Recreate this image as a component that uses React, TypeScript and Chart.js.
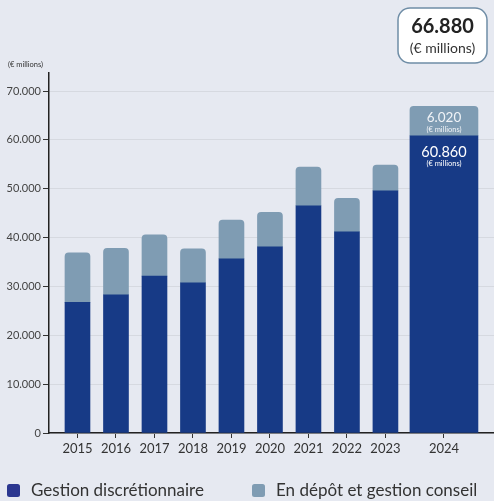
import React, { useEffect, useRef } from "react";
import { Chart, registerables } from "chart.js";

Chart.register(...registerables);

const years = ["2015", "2016", "2017", "2018", "2019", "2020", "2021", "2022", "2023", "2024"];
const discretionary = [26750, 28300, 32130, 30760, 35670, 38130, 46520, 41200, 49590, 60860];
const advisory = [10150, 9500, 8460, 6960, 7920, 7040, 7920, 6830, 5260, 6020];
const totalLabel = "66.880";
const unitLabel = "(€ millions)";
const seriesNames = ["Gestion discrétionnaire", "En dépôt et gestion conseil"];
const yTicks = [0, 10000, 20000, 30000, 40000, 50000, 60000, 70000];

const DARK = "#173a86";
const LIGHT = "#7f9cb3";
const LEGEND_DARK = "#2b3790";
const BG = "#e6e9f1";
const FONT = "Lato, 'Liberation Sans', sans-serif";

// x position of each category on the linear axis (last year sits in a wider slot)
const xPos = (i: number) => (i < years.length - 1 ? i : 9.52);
const fmt = (v: number) => v.toLocaleString("de-DE");

export default function App() {
  const ref = useRef<HTMLCanvasElement>(null);

  useEffect(() => {
    if (!ref.current) return;
    const n = years.length;
    const regular = years.slice(0, n - 1).map((_, i) => i);
    const last = n - 1;

    const overlay = {
      id: "overlay",
      afterDraw(chart: any) {
        const ctx = chart.ctx;
        ctx.save();
        // y-axis unit title
        ctx.fillStyle = "#333";
        ctx.font = `7.5px ${FONT}`;
        ctx.textAlign = "left";
        ctx.textBaseline = "middle";
        ctx.fillText(unitLabel, 8, 65);

        // total box
        const bx = 398, by = 8, bw = 89, bh = 55, r = 12;
        ctx.beginPath();
        ctx.roundRect(bx, by, bw, bh, r);
        ctx.fillStyle = "#ffffff";
        ctx.fill();
        ctx.lineWidth = 1.5;
        ctx.strokeStyle = "#6f8da6";
        ctx.stroke();
        ctx.fillStyle = "#222";
        ctx.textAlign = "center";
        ctx.font = `bold 20px ${FONT}`;
        ctx.fillText(totalLabel, bx + bw / 2, 27);
        ctx.font = `14px ${FONT}`;
        ctx.fillStyle = "#333";
        ctx.fillText(unitLabel, bx + bw / 2, 48);

        // labels inside last bar
        const darkBar = chart.getDatasetMeta(2).data[0];
        const lightBar = chart.getDatasetMeta(3).data[0];
        if (lightBar) {
          const cx = lightBar.x;
          const top = lightBar.y;
          ctx.fillStyle = "#f0f3f7";
          ctx.font = `13.5px ${FONT}`;
          ctx.fillText(fmt(advisory[last]), cx, top + 11);
          ctx.font = `7.5px ${FONT}`;
          ctx.fillText(unitLabel, cx, top + 23);
        }
        if (darkBar) {
          const cx = darkBar.x;
          const top = darkBar.y;
          ctx.fillStyle = "#ffffff";
          ctx.font = `14.5px ${FONT}`;
          ctx.fillText(fmt(discretionary[last]), cx, top + 17);
          ctx.font = `7.5px ${FONT}`;
          ctx.fillText(unitLabel, cx, top + 28);
        }

        // legend
        const legendY = 490.5;
        const items = [
          { x: 7, color: LEGEND_DARK, text: seriesNames[0] },
          { x: 252, color: LIGHT, text: seriesNames[1] },
        ];
        ctx.textAlign = "left";
        ctx.textBaseline = "middle";
        ctx.font = `17px ${FONT}`;
        for (const it of items) {
          ctx.beginPath();
          ctx.roundRect(it.x, legendY - 6.5, 13, 13, 2.5);
          ctx.fillStyle = it.color;
          ctx.fill();
          ctx.fillStyle = "#333";
          ctx.fillText(it.text, it.x + 24, legendY);
        }
        ctx.restore();
      },
    };

    const chart = new Chart(ref.current, {
      type: "bar",
      data: {
        datasets: [
          {
            label: seriesNames[0],
            data: regular.map((i) => ({ x: xPos(i), y: discretionary[i] })),
            backgroundColor: DARK,
            barThickness: 25,
            borderRadius: 0,
          },
          {
            label: seriesNames[1],
            data: regular.map((i) => ({ x: xPos(i), y: advisory[i] })),
            backgroundColor: LIGHT,
            barThickness: 25,
            borderRadius: { topLeft: 4, topRight: 4 },
            borderSkipped: "start",
          },
          {
            label: seriesNames[0] + " " + years[last],
            data: [{ x: xPos(last), y: discretionary[last] }],
            backgroundColor: DARK,
            barThickness: 68,
            borderRadius: 0,
          },
          {
            label: seriesNames[1] + " " + years[last],
            data: [{ x: xPos(last), y: advisory[last] }],
            backgroundColor: LIGHT,
            barThickness: 68,
            borderRadius: { topLeft: 4, topRight: 4 },
            borderSkipped: "start",
          },
        ] as any,
      },
      options: {
        animation: false,
        responsive: true,
        maintainAspectRatio: false,
        layout: { padding: { top: 73, right: 0, left: 0, bottom: 21 } },
        plugins: {
          tooltip: { enabled: false },
          legend: { display: false },
        },
        scales: {
          x: {
            type: "linear",
            stacked: true,
            offset: false,
            min: -0.74,
            max: 10.82,
            afterBuildTicks: (scale: any) => {
              scale.ticks = years.map((_, i) => ({ value: xPos(i) }));
            },
            afterFit: (scale: any) => {
              scale.height = 47;
            },
            ticks: {
              autoSkip: false,
              maxRotation: 0,
              padding: 3,
              color: "#333",
              font: { family: FONT, size: 13 },
              callback: (_v: any, idx: number) => years[idx],
            },
            grid: {
              display: true,
              offset: false,
              drawOnChartArea: false,
              drawTicks: true,
              tickLength: 5,
              color: "#333",
              tickColor: "#333",
            },
            border: { display: true, color: "#222", width: 1.5 },
          },
          y: {
            type: "linear",
            stacked: true,
            min: 0,
            max: 73700,
            afterBuildTicks: (scale: any) => {
              scale.ticks = yTicks.map((v) => ({ value: v }));
            },
            afterFit: (scale: any) => {
              scale.width = 49;
            },
            ticks: {
              padding: 2,
              color: "#444",
              font: { family: FONT, size: 11 },
              callback: (v: any) => fmt(Number(v)),
            },
            grid: {
              color: "#d6d9e0",
              tickColor: "#333",
              tickLength: 6,
              lineWidth: 1,
            },
            border: { display: true, color: "#222", width: 1.5 },
          },
        },
      } as any,
      plugins: [overlay],
    });
    return () => chart.destroy();
  }, []);

  return (
    <div
      style={{
        position: "fixed",
        left: 0,
        top: 0,
        width: 494,
        height: 501,
        background: BG,
      }}
    >
      <canvas ref={ref} />
    </div>
  );
}
